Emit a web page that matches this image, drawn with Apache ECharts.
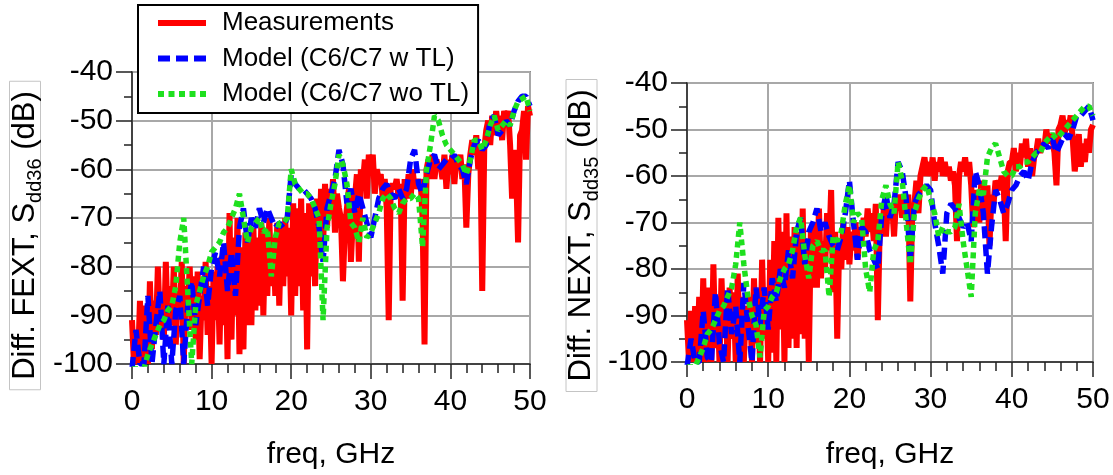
<!DOCTYPE html>
<html><head><meta charset="utf-8">
<script src="https://cdn.jsdelivr.net/npm/echarts@6/dist/echarts.min.js"></script>
<style>html,body{margin:0;padding:0;background:#fff}#c{width:1113px;height:475px}</style>
</head><body><div id="c"></div><script>
// ---- data ----
const seriesNames = ['Measurements', 'Model (C6/C7 w TL)', 'Model (C6/C7 wo TL)'];
const xTicks = [0, 10, 20, 30, 40, 50];
const yTicks = [-100, -90, -80, -70, -60, -50, -40];

// measurement frequency grid (GHz)
const freqMeas = [
0,0.25,0.5,0.75, 1,1.25,1.5,1.75, 2,2.25,2.5,2.75, 3,3.25,3.5,3.75, 4,4.25,4.5,4.75,
5,5.25,5.5,5.75, 6,6.25,6.5,6.75, 7,7.25,7.5,7.75, 8,8.25,8.5,8.75, 9,9.25,9.5,9.75,
10,10.25,10.5,10.75, 11,11.25,11.5,11.75, 12,12.25,12.5,12.75, 13,13.25,13.5,13.75, 14,14.25,14.5,14.75,
15,15.25,15.5,15.75, 16,16.25,16.5,16.75, 17,17.25,17.5,17.75, 18,18.25,18.5,18.75, 19,19.25,19.5,19.75,
20,20.25,20.5,20.75, 21,21.25,21.5,21.75, 22,22.25,22.5,22.75, 23,23.25,23.5,23.75, 24,24.25,24.5,24.75,
25,25.25,25.5,25.75, 26,26.25,26.5,26.75, 27,27.25,27.5,27.75, 28,28.25,28.5,28.75, 29,29.25,29.5,29.75,
30,30.25,30.5,30.75, 31,31.25,31.5,31.75, 32,32.25,32.5,32.75, 33,33.25,33.5,33.75, 34,34.25,34.5,34.75,
35,35.25,35.5,35.75, 36,36.25,36.5,36.75, 37,37.25,37.5,37.75, 38,38.25,38.5,38.75, 39,39.25,39.5,39.75,
40,40.25,40.5,40.75, 41,41.25,41.5,41.75, 42,42.25,42.5,42.75, 43,43.25,43.5,43.75, 44,44.25,44.5,44.75,
45,45.25,45.5,45.75, 46,46.25,46.5,46.75, 47,47.25,47.5,47.75, 48,48.25,48.5,48.75, 49,49.25,49.5,49.75,
50];

// model frequency grid (GHz)
const freqModel = [
0,0.5,1,1.5,2,2.5,3,3.5,4,4.5, 5,5.5,6,6.5,7,7.5,8,8.5,9,9.5,
10,10.5,11,11.5,12,12.5,13,13.5,14,14.5, 15,15.5,16,16.5,17,17.5,18,18.5,19,19.5,
20,20.5,21,21.5,22,22.5,23,23.5,24,24.5, 25,25.5,26,26.5,27,27.5,28,28.5,29,29.5,
30,30.5,31,31.5,32,32.5,33,33.5,34,34.5, 35,35.5,36,36.5,37,37.5,38,38.5,39,39.5,
40,40.5,41,41.5,42,42.5,43,43.5,44,44.5, 45,45.5,46,46.5,47,47.5,48,48.5,49,49.5,
50];

// Left panel: Diff. FEXT, Sdd36 (dB)
const fextMeas = [
-91,-100,-93,-100, -87,-100,-95,-88, -100,-83,-97,-87, -94,-80,-92,-86, -95,-79,-93,-84,
-92,-80,-96,-85, -90,-79,-100,-84, -89,-80,-93,-82, -95,-81,-99,-86, -91,-79,-94,-84,
-100,-81,-91,-80, -96,-78,-92,-77, -99,-69,-95,-74, -90,-70,-98,-76, -97,-73,-92,-75,
-92,-72,-89,-74, -88,-71,-90,-73, -86,-70,-84,-74, -86,-71,-88,-72, -84,-70,-82,-72,
-90,-67,-86,-68, -84,-66,-89,-69, -97,-67,-82,-68, -84,-66,-78,-64, -76,-63,-72,-64,
-70,-62,-73,-65, -68,-70,-83,-72, -72,-64,-79,-70, -66,-61,-79,-60, -63,-58,-66,-57,
-60,-57,-65,-60, -62,-61,-66,-62, -68,-91,-64,-63, -64,-62,-66,-63, -87,-62,-66,-61,
-66,-60,-64,-62, -64,-62,-70,-96, -60,-58,-62,-57, -62,-58,-60,-59, -62,-57,-64,-58,
-61,-57,-63,-58, -60,-57,-62,-59, -72,-61,-57,-54, -57,-53,-60,-55, -85,-56,-52,-50,
-55,-49,-53,-48, -52,-49,-54,-48, -50,-48,-55,-66, -56,-60,-75,-53, -52,-48,-58,-47,
-49];
const fextModelTL = [
-101,-93,-100,-100,-86,-100,-92,-85,-100,-88,
-100,-89,-86,-100,-88,-83,-92,-86,-80,-88,
-80,-77,-82,-75,-85,-77,-86,-72,-68,-75,
-70,-72,-68,-71,-68,-70,-72,-71,-72,-70,
-61,-63,-64,-64,-65,-66,-68,-72,-79,-68,
-65,-62,-56,-59,-67,-64,-69,-65,-68,-71,
-74,-70,-66,-64,-63,-65,-66,-64,-66,-64,
-58,-56,-63,-65,-61,-58,-57,-60,-59,-58,
-58,-57,-59,-60,-63,-58,-55,-54,-56,-55,
-50,-49,-53,-52,-50,-51,-48,-46,-45,-45,
-47];
const fextModelNoTL = [
-101,-101,-101,-101,-98,-96,-94,-92,-91,-89,
-88,-84,-75,-70,-85,-100,-88,-85,-82,-80,
-77,-76,-75,-73,-72,-70,-68,-65,-70,-75,
-72,-71,-70,-73,-72,-82,-74,-71,-71,-70,
-60,-63,-64,-65,-65,-66,-68,-70,-91,-72,
-67,-63,-57,-59,-63,-71,-72,-75,-70,-74,
-73,-71,-69,-66,-65,-66,-68,-69,-67,-66,
-66,-65,-66,-76,-60,-55,-49,-50,-53,-55,
-56,-57,-58,-59,-61,-58,-54,-54,-56,-54,
-51,-49,-52,-51,-50,-51,-48,-46,-45.5,-45,
-48];

// Right panel: Diff. NEXT, Sdd35 (dB)
const nextMeas = [
-91,-100,-89,-100, -88,-100,-86,-100, -82,-100,-90,-84, -100,-79,-97,-87, -100,-82,-94,-86,
-100,-84,-95,-85, -100,-81,-98,-86, -100,-88,-95,-86, -100,-82,-96,-86, -100,-78,-95,-84,
-100,-78,-98,-74, -100,-69,-93,-72, -100,-68,-97,-73, -95,-71,-97,-72, -94,-67,-95,-75,
-100,-72,-84,-70, -84,-67,-82,-74, -80,-68,-76,-63, -85,-72,-95,-74, -80,-70,-78,-71,
-79,-72,-76,-70, -78,-71,-74,-69, -73,-67,-72,-68, -74,-66,-91,-70, -72,-67,-73,-66,
-69,-66,-73,-65, -67,-64,-69,-65, -68,-64,-87,-67, -66,-61,-68,-60, -58,-56,-60,-57,
-60,-56,-61,-57, -59,-56,-60,-57, -60,-58,-61,-59, -62,-74,-60,-57, -59,-56,-60,-57,
-62,-71,-66,-63, -70,-61,-66,-68, -62,-75,-64,-66, -61,-62,-63,-60, -62,-74,-59,-57,
-57,-54,-59,-55, -58,-53,-56,-52, -58,-54,-60,-56, -55,-52,-55,-53, -54,-50,-53,-51,
-52,-55,-62,-50, -49,-47,-51,-48, -50,-47,-52,-59, -55,-51,-58,-53, -57,-52,-55,-50,
-49];
const nextModelTL = [
-101,-95,-100,-100,-89,-99,-100,-85,-96,-100,
-84,-94,-88,-100,-83,-92,-100,-84,-92,-84,
-93,-82,-87,-80,-84,-76,-82,-72,-69,-79,
-72,-70,-67,-72,-70,-73,-75,-76,-73,-68,
-61,-70,-78,-71,-72,-76,-78,-80,-68,-64,
-69,-66,-57,-59,-65,-78,-66,-64,-63,-62,
-63,-70,-75,-81,-68,-66,-67,-69,-71,-70,
-74,-59,-62,-68,-81,-71,-63,-65,-68,-66,
-63,-62,-60,-59,-61,-57,-55,-54,-53,-54,
-52,-55,-53,-51,-52,-50,-47,-47,-46,-45,
-48];
const nextModelNoTL = [
-101,-101,-101,-99,-97,-94,-93,-91,-89,-88,
-86,-84,-79,-70,-79,-86,-90,-92,-99,-89,
-88,-86,-85,-82,-80,-79,-76,-71,-69,-77,
-82,-75,-74,-76,-76,-86,-73,-74,-72,-66,
-62,-70,-68,-69,-80,-85,-76,-74,-65,-62,
-66,-68,-57,-61,-70,-79,-68,-65,-63,-62,
-65,-68,-73,-71,-72,-72,-71,-66,-74,-80,
-86,-68,-63,-64,-56,-54,-53,-56,-59,-60,
-60,-58,-58,-57,-57,-56,-55,-55,-53,-52,
-51,-52,-51,-50,-49,-48,-47,-46,-45,-45,
-47];

// ---- chart ----
const FONT = '"Liberation Sans", Arial, Helvetica, sans-serif';
const pairs = (fx, vy) => fx.map((f, i) => [f, vy[i]]);

function xAxis(gi, gap) {
  return {
    type: 'value', gridIndex: gi, min: xTicks[0], max: xTicks[xTicks.length - 1], interval: 10,
    name: 'freq, GHz', nameLocation: 'middle', nameGap: gap,
    nameTextStyle: { fontSize: 30, color: '#000', fontFamily: FONT },
    axisLine: { onZero: false, lineStyle: { color: '#222', width: 1.5 } },
    axisTick: { length: 15, lineStyle: { color: '#222', width: 1.5 } },
    minorTick: { show: true, splitNumber: 5, length: 9, lineStyle: { color: '#222', width: 1.5 } },
    axisLabel: { margin: 23, fontSize: 30, color: '#000', fontFamily: FONT },
    splitLine: { show: true, lineStyle: { color: '#a8a8a8', width: 2 } }
  };
}
function yAxis(gi) {
  return {
    type: 'value', gridIndex: gi, min: yTicks[0], max: yTicks[yTicks.length - 1], interval: 10,
    axisLine: { onZero: false, lineStyle: { color: '#222', width: 1.5 } },
    axisTick: { length: 16, lineStyle: { color: '#222', width: 1.5 } },
    minorTick: { show: true, splitNumber: 2, length: 8, lineStyle: { color: '#222', width: 1.5 } },
    axisLabel: { margin: 19, fontSize: 30, color: '#000', fontFamily: FONT },
    splitLine: { show: true, lineStyle: { color: '#a8a8a8', width: 2 } }
  };
}
const styles = [
  { color: '#ff0000', width: 6, type: 'solid' },
  { color: '#0000ff', width: 5.5, type: [12, 6] },
  { color: '#1ee01e', width: 5.5, type: [6, 4.5] }
];
function line(gi, k, fx, vy) {
  return {
    type: 'line', name: seriesNames[k], xAxisIndex: gi, yAxisIndex: gi,
    data: pairs(fx, vy), symbol: 'none', showSymbol: false, clip: true,
    lineStyle: { color: styles[k].color, width: styles[k].width, type: styles[k].type },
    itemStyle: { color: styles[k].color },
    emphasis: { disabled: true }, silent: true, z: 2 + k
  };
}
function yTitle(cx, main, sub) {
  return {
    type: 'text', x: cx, y: 235.5, rotation: Math.PI / 2, silent: true,
    style: {
      text: '{m|' + main + '}{s|' + sub + '}{m| (dB)}',
      align: 'center', verticalAlign: 'middle',
      borderColor: '#c4c4c4', borderWidth: 1, padding: [0, 10, 0, 10],
      rich: {
        m: { fontSize: 31, fontFamily: FONT, fill: '#000', lineHeight: 31, verticalAlign: 'top' },
        s: { fontSize: 20, fontFamily: FONT, fill: '#000', lineHeight: 20, padding: [16, 0, 0, 0], verticalAlign: 'top' }
      }
    }
  };
}

const chart = echarts.init(document.getElementById('c'), null, { renderer: 'canvas' });
chart.setOption({
  animation: false,
  backgroundColor: '#fff',
  grid: [
    { left: 132, right: 583, top: 72, bottom: 105, show: true, borderColor: '#333', borderWidth: 1.5, backgroundColor: '#fff' },
    { left: 687, right: 20, top: 83, bottom: 107, show: true, borderColor: '#333', borderWidth: 1.5, backgroundColor: '#fff' }
  ],
  xAxis: [xAxis(0, 76), xAxis(1, 78)],
  yAxis: [yAxis(0), yAxis(1)],
  legend: {
    data: seriesNames, orient: 'vertical', left: 138, top: 5,
    padding: [4, 9, 5, 17], itemGap: 7.5, itemWidth: 48, itemHeight: 14,
    backgroundColor: '#fff', borderColor: '#000', borderWidth: 2, borderRadius: 0,
    textStyle: { fontSize: 26, fontFamily: FONT, color: '#000', lineHeight: 28, padding: [0, 0, 0, 11] },
    lineStyle: { width: 6 }, itemStyle: { opacity: 0 }, selectedMode: false, z: 10
  },
  graphic: [
    yTitle(25, 'Diff. FEXT, S', 'dd36'),
    yTitle(581.5, 'Diff. NEXT, S', 'dd35')
  ],
  series: [
    line(0, 0, freqMeas, fextMeas),
    line(0, 1, freqModel, fextModelTL),
    line(0, 2, freqModel, fextModelNoTL),
    line(1, 0, freqMeas, nextMeas),
    line(1, 1, freqModel, nextModelTL),
    line(1, 2, freqModel, nextModelNoTL)
  ]
});
</script></body></html>
